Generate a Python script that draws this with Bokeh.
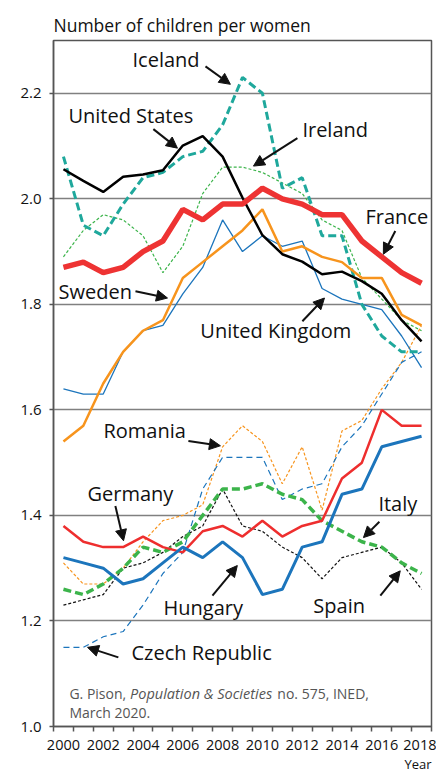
from bokeh.plotting import figure
from bokeh.models import (Range1d, FixedTicker, Label, Arrow, NormalHead, Title,
                          PrintfTickFormatter)
from bokeh.embed import file_html
from bokeh.resources import INLINE

years = list(range(2000, 2019))

france = [1.87, 1.88, 1.86, 1.87, 1.90, 1.92, 1.98, 1.96, 1.99, 1.99, 2.02, 2.00, 1.99, 1.97, 1.97, 1.92, 1.89, 1.86, 1.84]
united_states = [2.056, 2.034, 2.013, 2.042, 2.046, 2.054, 2.101, 2.119, 2.08, 2.002, 1.931, 1.895, 1.881, 1.857, 1.862, 1.844, 1.820, 1.770, 1.730]
iceland = [2.08, 1.95, 1.93, 1.99, 2.04, 2.05, 2.08, 2.09, 2.14, 2.23, 2.20, 2.02, 2.04, 1.93, 1.93, 1.80, 1.74, 1.71, 1.71]
ireland = [1.89, 1.94, 1.97, 1.96, 1.93, 1.86, 1.91, 2.01, 2.06, 2.06, 2.05, 2.03, 2.01, 1.96, 1.94, 1.85, 1.81, 1.77, 1.75]
sweden = [1.54, 1.57, 1.65, 1.71, 1.75, 1.77, 1.85, 1.88, 1.91, 1.94, 1.98, 1.90, 1.91, 1.89, 1.88, 1.85, 1.85, 1.78, 1.76]
united_kingdom = [1.64, 1.63, 1.63, 1.71, 1.75, 1.76, 1.82, 1.87, 1.96, 1.90, 1.93, 1.91, 1.92, 1.83, 1.81, 1.80, 1.79, 1.74, 1.68]
romania = [1.31, 1.27, 1.27, 1.30, 1.35, 1.39, 1.40, 1.42, 1.53, 1.57, 1.54, 1.46, 1.53, 1.41, 1.56, 1.58, 1.64, 1.69, 1.76]
czech_republic = [1.15, 1.15, 1.17, 1.18, 1.23, 1.29, 1.33, 1.45, 1.51, 1.51, 1.51, 1.43, 1.45, 1.46, 1.53, 1.57, 1.63, 1.69, 1.71]
italy = [1.26, 1.25, 1.27, 1.30, 1.34, 1.33, 1.35, 1.40, 1.45, 1.45, 1.46, 1.44, 1.43, 1.39, 1.37, 1.35, 1.34, 1.31, 1.29]
spain = [1.23, 1.24, 1.25, 1.30, 1.31, 1.33, 1.36, 1.38, 1.45, 1.38, 1.37, 1.34, 1.32, 1.28, 1.32, 1.33, 1.34, 1.31, 1.26]
germany = [1.38, 1.35, 1.34, 1.34, 1.36, 1.34, 1.33, 1.37, 1.38, 1.36, 1.39, 1.36, 1.38, 1.39, 1.47, 1.50, 1.60, 1.57, 1.57]
hungary = [1.32, 1.31, 1.30, 1.27, 1.28, 1.31, 1.34, 1.32, 1.35, 1.32, 1.25, 1.26, 1.34, 1.35, 1.44, 1.45, 1.53, 1.54, 1.55]

y_ticks = [1.0, 1.2, 1.4, 1.6, 1.8, 2.0, 2.2]
x_label_ticks = list(range(2000, 2019, 2))
x_minor_ticks = [y - 0.5 for y in range(2000, 2020)]

# annotation labels: (text, x_left, y_middle)
labels = [
    ("Iceland", 2003.47, 2.264),
    ("United States", 2000.25, 2.157),
    ("Ireland", 2012.01, 2.132),
    ("France", 2015.18, 1.966),
    ("Sweden", 1999.75, 1.825),
    ("United Kingdom", 2006.88, 1.751),
    ("Romania", 2002.01, 1.560),
    ("Germany", 2001.21, 1.441),
    ("Italy", 2015.83, 1.422),
    ("Hungary", 2005.03, 1.225),
    ("Spain", 2012.56, 1.229),
    ("Czech Republic", 2003.42, 1.140),
]
# arrows: (x_start, y_start, x_end, y_end)
arrows = [
    (2007.14, 2.251, 2008.39, 2.217),
    (2004.52, 2.132, 2005.73, 2.096),
    (2011.76, 2.115, 2009.55, 2.062),
    (2016.68, 1.939, 2016.08, 1.895),
    (2003.62, 1.825, 2005.23, 1.812),
    (2012.01, 1.768, 2013.12, 1.812),
    (2006.28, 1.541, 2007.89, 1.532),
    (2002.61, 1.418, 2003.02, 1.352),
    (2015.88, 1.388, 2015.08, 1.358),
    (2007.49, 1.248, 2008.74, 1.305),
    (2015.93, 1.248, 2016.93, 1.295),
    (2002.76, 1.131, 2001.21, 1.150),
]

FONT = "Open Sans"

p = figure(frame_width=378, frame_height=686,
           min_border_left=53, min_border_right=5, min_border_top=40, min_border_bottom=45,
           x_range=Range1d(1999.5, 2018.5), y_range=Range1d(1.0, 2.3),
           output_backend="svg", toolbar_location=None)
p.background_fill_color = "white"
p.border_fill_color = "white"
p.outline_line_color = "#555555"
p.outline_line_width = 1.5

p.add_layout(Title(text="Number of children per women", align="left",
                   text_font=FONT, text_font_size="17.5px", text_font_style="normal",
                   text_color="#111111", standoff=8), "above")
p.add_layout(Title(text="Year", align="right", text_font=FONT, text_font_size="13px",
                   text_font_style="normal", text_color="#111111", standoff=0, offset=0), "below")

p.xgrid.visible = False
p.ygrid.ticker = FixedTicker(ticks=y_ticks)
p.ygrid.grid_line_color = "#808080"
p.ygrid.grid_line_width = 1.5

p.yaxis.ticker = FixedTicker(ticks=y_ticks)
p.yaxis.formatter = PrintfTickFormatter(format="%.1f")
p.yaxis.major_label_text_font = FONT
p.yaxis.major_label_text_font_size = "15px"
p.yaxis.major_label_text_color = "#111111"
p.yaxis.major_tick_out = 4
p.yaxis.major_tick_in = 0
p.yaxis.minor_tick_line_color = None
p.yaxis.axis_line_color = "#555555"
p.yaxis.axis_line_width = 1.5
p.yaxis.major_tick_line_color = "#555555"
p.yaxis.major_tick_line_width = 1.5
p.yaxis.major_label_standoff = 8

p.xaxis.ticker = FixedTicker(ticks=x_label_ticks, minor_ticks=x_minor_ticks)
p.xaxis.major_tick_line_color = None
p.xaxis.major_tick_out = 5
p.xaxis.minor_tick_out = 5
p.xaxis.minor_tick_in = 0
p.xaxis.minor_tick_line_color = "#555555"
p.xaxis.minor_tick_line_width = 1.5
p.xaxis.axis_line_color = "#555555"
p.xaxis.axis_line_width = 1.5
p.xaxis.major_label_text_font = FONT
p.xaxis.major_label_text_font_size = "14.5px"
p.xaxis.major_label_text_color = "#111111"
p.xaxis.major_label_standoff = 8

# series
p.line(years, ireland, line_color="#3cb44b", line_width=1.2, line_dash="3 2")
p.line(years, romania, line_color="#f7941d", line_width=1.2, line_dash="3 2")
p.line(years, spain, line_color="#111111", line_width=1.2, line_dash="3 2")
p.line(years, czech_republic, line_color="#1c75bc", line_width=1.2, line_dash="6 4")
p.line(years, united_kingdom, line_color="#1c75bc", line_width=1.3)
p.line(years, iceland, line_color="#1fa89c", line_width=3, line_dash="8 4")
p.line(years, italy, line_color="#3cb44b", line_width=3.5, line_dash="8 4")
p.line(years, sweden, line_color="#f7941d", line_width=2.5)
p.line(years, germany, line_color="#ee2e2e", line_width=2.5)
p.line(years, hungary, line_color="#1c75bc", line_width=3)
p.line(years, united_states, line_color="#000000", line_width=2.5)
p.line(years, france, line_color="#ee3333", line_width=5.5)

for txt, lx, ly in labels:
    p.add_layout(Label(x=lx, y=ly, text=txt, text_font=FONT, text_font_size="20px",
                       text_color="#111111", text_baseline="middle", text_align="left"))

for xs, ys, xe, ye in arrows:
    p.add_layout(Arrow(end=NormalHead(size=11, fill_color="#111111", line_color="#111111"),
                       x_start=xs, y_start=ys, x_end=xe, y_end=ye,
                       line_color="#111111", line_width=2))

src_color = "#555555"
p.add_layout(Label(x=2000.3, y=1.062, text="G. Pison,", text_font=FONT, text_font_size="14px",
                   text_color=src_color, text_baseline="middle"))
p.add_layout(Label(x=2003.35, y=1.062, text="Population & Societies", text_font=FONT,
                   text_font_size="14.5px", text_font_style="italic",
                   text_color=src_color, text_baseline="middle"))
p.add_layout(Label(x=2010.75, y=1.062, text=" no. 575, INED,", text_font=FONT, text_font_size="14px",
                   text_color=src_color, text_baseline="middle"))
p.add_layout(Label(x=2000.3, y=1.026, text="March 2020.", text_font=FONT, text_font_size="14px",
                   text_color=src_color, text_baseline="middle"))

open("out.html", "w").write(file_html(p, INLINE))
